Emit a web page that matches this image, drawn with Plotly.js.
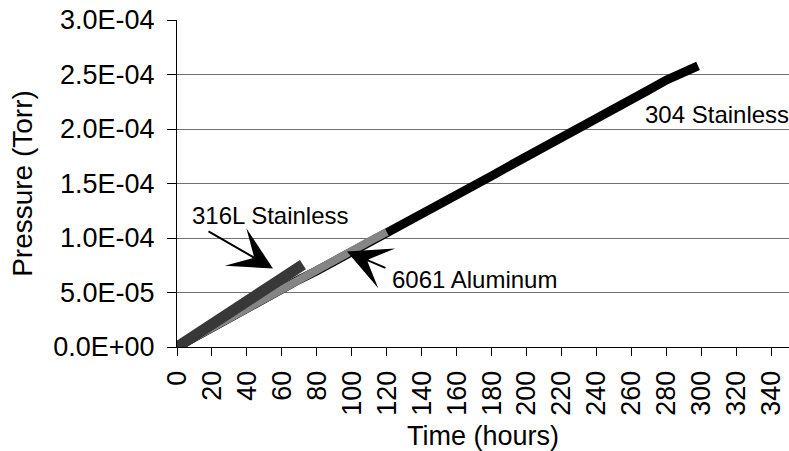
<!DOCTYPE html>
<html>
<head>
<meta charset="utf-8">
<script src="https://cdn.plot.ly/plotly-3.0.1.min.js"></script>
<style>html,body{margin:0;padding:0;background:#fff;}#chart{width:789px;height:451px;}</style>
</head>
<body>
<div id="chart"></div>
<script>
// Data
const hours304 = [0,10,20,30,40,50,60,70,80,90,100,110,120,130,140,150,160,170,180,190,200,210,220,230,240,250,260,270,280,290,298];
const pressure304 = [0,0.09e-4,0.18e-4,0.275e-4,0.365e-4,0.455e-4,0.54e-4,0.62e-4,0.70e-4,0.785e-4,0.87e-4,0.955e-4,1.04e-4,1.135e-4,1.225e-4,1.31e-4,1.40e-4,1.48e-4,1.57e-4,1.66e-4,1.745e-4,1.83e-4,1.92e-4,2.005e-4,2.09e-4,2.18e-4,2.27e-4,2.36e-4,2.45e-4,2.52e-4,2.58e-4];
const hours6061 = [0,10,20,30,40,50,60,70,80,90,100,110,120];
const pressure6061 = [0,0.09e-4,0.18e-4,0.27e-4,0.355e-4,0.44e-4,0.53e-4,0.62e-4,0.71e-4,0.80e-4,0.885e-4,0.97e-4,1.055e-4];
const hours316 = [0,10,20,30,40,50,60,70,72];
const pressure316 = [0,0.105e-4,0.21e-4,0.315e-4,0.42e-4,0.525e-4,0.63e-4,0.735e-4,0.755e-4];
const xTicks = [0,20,40,60,80,100,120,140,160,180,200,220,240,260,280,300,320,340];
const yTicks = [0,0.5e-4,1.0e-4,1.5e-4,2.0e-4,2.5e-4,3.0e-4];
const yTickText = ['0.0E+00','5.0E-05','1.0E-04','1.5E-04','2.0E-04','2.5E-04','3.0E-04'];
const labels = ['304 Stainless','6061 Aluminum','316L Stainless'];

const FONT = 'Liberation Sans, Arial, sans-serif';
const traces = [
  {x: hours304, y: pressure304, name: labels[0], mode: 'lines', line: {color: '#000000', width: 9}},
  {x: hours6061, y: pressure6061, name: labels[1], mode: 'lines', line: {color: '#858585', width: 8}},
  {x: hours316, y: pressure316, name: labels[2], mode: 'lines', line: {color: '#383838', width: 11}}
];

const layout = {
  width: 789, height: 451,
  margin: {l: 177, r: 0, t: 20, b: 104},
  paper_bgcolor: '#ffffff', plot_bgcolor: '#ffffff',
  showlegend: false,
  font: {family: FONT, color: '#000000'},
  xaxis: {
    range: [0, 350], tickvals: xTicks, ticktext: xTicks.map(String),
    tickangle: -90, ticks: 'outside', ticklen: 8, tickcolor: '#000', tickwidth: 1,
    ticklabelstandoff: 4,
    showline: true, linecolor: '#000', linewidth: 1, showgrid: false, zeroline: false,
    tickfont: {family: FONT, size: 27, color: '#000'},
    title: {text: 'Time (hours)', font: {family: FONT, size: 27, color: '#000'}, standoff: 11}
  },
  yaxis: {
    range: [0, 3.0e-4], tickvals: yTicks, ticktext: yTickText,
    ticks: 'outside', ticklen: 9, tickcolor: '#000', tickwidth: 1,
    ticklabelstandoff: 7,
    showline: true, linecolor: '#000', linewidth: 1,
    showgrid: true, gridcolor: '#707070', gridwidth: 1, zeroline: false,
    tickfont: {family: FONT, size: 27, color: '#000'},
    title: {text: 'Pressure (Torr)', font: {family: FONT, size: 28, color: '#000'}, standoff: 12}
  },
  annotations: [
    {x: 266.4, y: 2.133e-4, xref: 'x', yref: 'y', text: labels[0], showarrow: false, xanchor: 'left', yanchor: 'middle', font: {family: FONT, size: 24, color: '#000'}},
    {x: 53.7, y: 1.206e-4, xref: 'x', yref: 'y', text: labels[2], showarrow: false, xanchor: 'center', yanchor: 'middle', font: {family: FONT, size: 24, color: '#000'}},
    {x: 170.4, y: 0.62e-4, xref: 'x', yref: 'y', text: labels[1], showarrow: false, xanchor: 'center', yanchor: 'middle', font: {family: FONT, size: 24, color: '#000'}},
    {x: 54.9, y: 0.72e-4, xref: 'x', yref: 'y', text: '', showarrow: true, ax: -66, ay: -38, arrowhead: 3, arrowsize: 3.6, arrowwidth: 2, arrowcolor: '#000'},
    {x: 97.2, y: 0.876e-4, xref: 'x', yref: 'y', text: '', showarrow: true, ax: 40, ay: 17, arrowhead: 3, arrowsize: 3.6, arrowwidth: 2, arrowcolor: '#000'}
  ]
};

Plotly.newPlot('chart', traces, layout, {displayModeBar: false, staticPlot: true});
</script>
</body>
</html>
